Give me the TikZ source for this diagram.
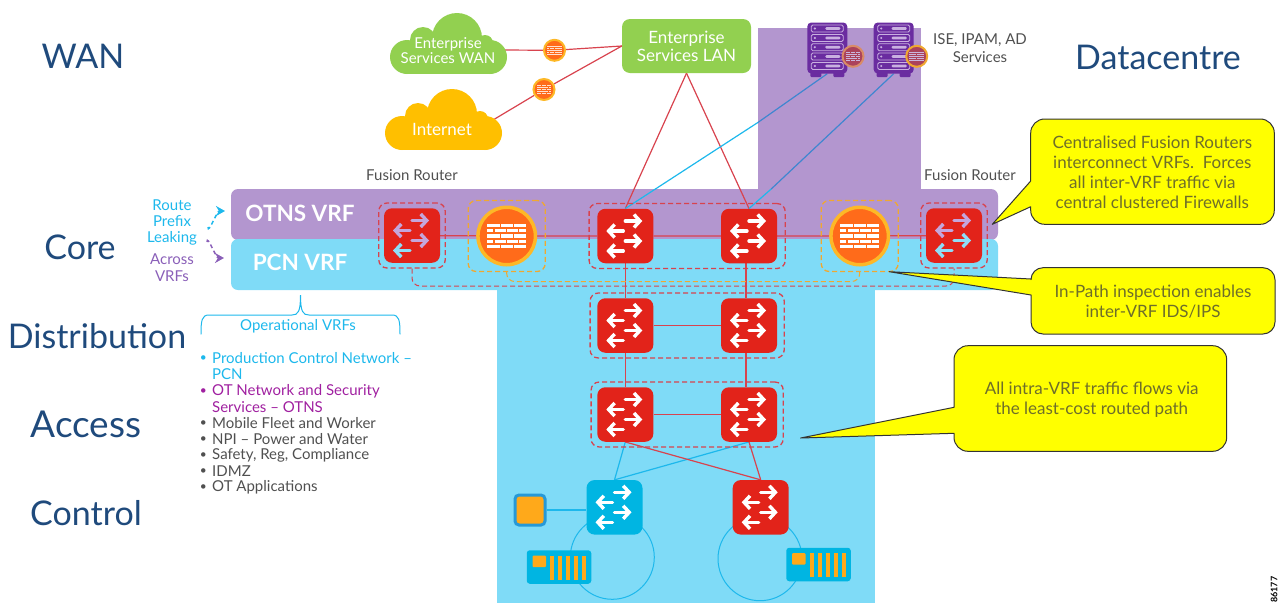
\documentclass[tikz,border=0pt]{standalone}
\usepackage{fontspec}
\setmainfont{Lato}
\usetikzlibrary{arrows.meta,fit}

\pgfdeclarelayer{bands}
\pgfdeclarelayer{links}
\pgfsetlayers{bands,links,main}

\definecolor{otnspurple}{HTML}{B396CF}
\definecolor{pcnblue}{HTML}{7FDBF7}
\definecolor{routerred}{HTML}{E2231A}
\definecolor{linkred}{HTML}{D8434E}
\definecolor{linkcyan}{HTML}{1DB8EC}
\definecolor{linkblue}{HTML}{3F86D0}
\definecolor{wallorange}{HTML}{FF6B1A}
\definecolor{wallring}{HTML}{FDB827}
\definecolor{dashorange}{HTML}{F0A830}
\definecolor{leafgreen}{HTML}{92D050}
\definecolor{cloudyellow}{HTML}{FFBF00}
\definecolor{serverpurple}{HTML}{6A2CA0}
\definecolor{slotpurple}{HTML}{C9B0E0}
\definecolor{headblue}{HTML}{1F4A7C}
\definecolor{tierlavender}{HTML}{C4A6DC}
\definecolor{tiersky}{HTML}{8FDDF7}
\definecolor{noteyellow}{HTML}{FFFF00}
\definecolor{noteolive}{HTML}{6E6E2A}
\definecolor{greytext}{HTML}{505050}
\definecolor{leakpurple}{HTML}{8A5FB8}
\definecolor{otnsmagenta}{HTML}{A020A0}
\definecolor{portblue}{HTML}{00B5E2}
\definecolor{portorange}{HTML}{FFA91A}

\tikzset{
    heading/.style={text=headblue, font=\fontsize{34}{40}\selectfont},
    router/.style={rectangle, rounded corners=8pt, fill=#1, minimum width=56pt, minimum height=54.5pt, inner sep=0pt},
    router/.default=routerred,
    firewall/.style={circle, fill=wallorange, draw=wallring, line width=3.5pt, minimum size=57.5pt, inner sep=0pt},
    smallwall/.style={circle, fill=#1, line width=2pt, minimum size=21pt, inner sep=0pt},
    redgroup/.style={draw=linkred, dashed, dash pattern=on 5pt off 3pt, line width=1.3pt, rounded corners=8pt, inner ysep=5pt},
    walgroup/.style={draw=dashorange, dashed, dash pattern=on 5pt off 3pt, line width=1.3pt, rounded corners=8pt, inner ysep=5pt, inner xsep=8pt},
    redlink/.style={draw=linkred, line width=1.2pt},
    cyanlink/.style={draw=linkcyan, line width=1.2pt},
    bluelink/.style={draw=linkblue, line width=1.2pt},
    flow/.style={draw=#1, line width=3.4pt, line cap=round, -{Straight Barb[length=6pt,width=13pt,line width=3.4pt]}},
    small label/.style={text=greytext, font=\fontsize{15}{17.5}\selectfont, align=center},
    cloud label/.style={text=white, font=\fontsize{15}{15}\selectfont, align=center},
    note/.style={fill=noteyellow, draw=black!80, line width=1pt, line join=round},
    note label/.style={text=noteolive, font=\fontsize{17}{20}\selectfont, align=center},
    band label/.style={text=white, font=\bfseries\fontsize{22.5}{26}\selectfont},
    listitem/.style={anchor=west, inner sep=0pt, text=#1, font=\fontsize{15}{16}\selectfont,
        label={[text=#1, inner sep=0pt, label distance=5pt, font=\fontsize{12}{14}\selectfont]left:•}},
    listcont/.style={anchor=west, inner sep=0pt, text=#1, font=\fontsize{15}{16}\selectfont},
    portcard/.style={rectangle, rounded corners=3pt, fill=portblue, minimum width=64.5pt, minimum height=33.5pt, inner sep=0pt},
    loopring/.style={circle, draw=linkcyan, line width=1pt, minimum size=84pt, inner sep=0pt},
    serverbox/.style={rectangle, rounded corners=4pt, fill=serverpurple, minimum width=40pt, minimum height=51pt, inner sep=0pt},
}

% four arrows of a router
\newcommand{\routerarrows}[5]{
    \draw[flow=#2] (#1.center) ++(0,-15) -- ++(17,0);
    \draw[flow=#3] (#1.center) ++(-2,-5) -- ++(-17,0);
    \draw[flow=#4] (#1.center) ++(0,5) -- ++(17,0);
    \draw[flow=#5] (#1.center) ++(-2,15) -- ++(-17,0);
}
% bricks of a firewall
\newcommand{\wallbricks}[3]{
    \begin{scope}[shift={(#1.center)}, scale=#2]
        \foreach \yy in {-10.8,0,10.8}{
            \fill[#3] (-19.5,\yy-1.6) rectangle (-7,\yy+1.6);
            \fill[#3] (-6,\yy-1.6) rectangle (6,\yy+1.6);
            \fill[#3] (7,\yy-1.6) rectangle (19.5,\yy+1.6);
        }
        \foreach \yy in {-5.4,5.4}{
            \fill[#3] (-19.5,\yy-1.6) rectangle (-13.5,\yy+1.6);
            \fill[#3] (-12,\yy-1.6) rectangle (-1,\yy+1.6);
            \fill[#3] (0.5,\yy-1.6) rectangle (11,\yy+1.6);
            \fill[#3] (12.5,\yy-1.6) rectangle (19.5,\yy+1.6);
        }
    \end{scope}
}
% body of a cloud, (0,0) is its top left
\newcommand{\cloudbody}[3]{
    \begin{scope}[shift={(#1,#2)}]
        \fill[#3] (69,25) circle (25);
        \fill[#3] (35,27) circle (13);
        \fill[#3] (97,30) circle (8);
        \fill[#3] (19,44) circle (17);
        \fill[#3] (102,44) circle (17);
        \fill[#3] (19,32) rectangle (102,61);
    \end{scope}
}
% slots and feet of a server
\newcommand{\serverslots}[1]{
    \begin{scope}[shift={(#1.center)}]
        \fill[serverpurple, rounded corners=1pt] (-17,23) rectangle (-6,29);
        \fill[serverpurple, rounded corners=1pt] (6,23) rectangle (17,29);
        \foreach \yy in {-19.5,-10,-0.8,8.5,18}{
            \draw[slotpurple, line width=0.8pt, rounded corners=1.5pt] (-16,\yy-3.5) rectangle (16,\yy+3.5);
            \fill[slotpurple] (-12.5,\yy) circle (1.2);
            \fill[slotpurple, rounded corners=1pt] (-2,\yy-1.3) rectangle (13,\yy+1.3);
        }
    \end{scope}
}
% one card with its port and its stripes
\newcommand{\cardports}[1]{
    \begin{scope}[shift={(#1.center)}]
        \fill[portorange, rounded corners=1pt] (-26.5,-11.5) rectangle (-13,0);
        \foreach \xx in {-9,-1,7,15,23}{
            \fill[portorange] (\xx,-11.5) rectangle (\xx+4,12.5);
        }
    \end{scope}
}

\begin{document}
\begin{tikzpicture}[x=1pt, y=-1pt]
    \useasboundingbox (0,0) rectangle (1280,603);

    % regions
    \begin{pgfonlayer}{bands}
        \fill[otnspurple] (758,28) rectangle (921,195);
        \fill[pcnblue] (497,280) rectangle (875,603);
        \fill[otnspurple, rounded corners=7pt] (231,189) rectangle (998,240);
        \fill[pcnblue, rounded corners=7pt] (231,239) rectangle (998,290);
    \end{pgfonlayer}

    % tier names
    \node[heading] (wanname) at (83,56){WAN};
    \node[heading] (dcname) at (1158,57){Datacentre};
    \node[heading] (corename) at (80,247){Core};
    \node[heading] (distname) at (97,336){Distribution};
    \node[heading, font=\fontsize{37}{40}\selectfont] (accname) at (86,424){Access};
    \node[heading] (ctrlname) at (86,513){Control};

    % top
    \cloudbody{388}{13}{leafgreen}
    \cloudbody{383}{89}{cloudyellow}
    \node[cloud label] (wancloud) at (448,50.5){Enterprise\\Services WAN};
    \node[cloud label, font=\fontsize{17}{17}\selectfont] (netcloud) at (442,129){Internet};
    \coordinate (wanport) at (502,50);
    \coordinate (netport) at (488,123);
    \node[rectangle, rounded corners=8pt, fill=leafgreen, minimum width=129pt, minimum height=54pt, inner sep=0pt, text=white, align=center, font=\fontsize{17}{18}\selectfont] (lan) at (686.5,46){Enterprise\\Services LAN};
    \node[smallwall=wallorange, draw=wallring] (fwwan) at (554.5,50.3){};
    \node[smallwall=wallorange, draw=wallring] (fwnet) at (544,89.5){};
    \wallbricks{fwwan}{0.38}{white!80!wallorange}
    \wallbricks{fwnet}{0.38}{white!80!wallorange}

    % servers
    \node[serverbox] (serverA) at (827.3,48){};
    \node[serverbox] (serverB) at (893.7,48){};
    \serverslots{serverA}
    \serverslots{serverB}
    \node[smallwall=red!45!otnspurple!80!black, draw=orange!50!otnspurple] (fwsrvA) at (853,56.3){};
    \node[smallwall=red!45!otnspurple!80!black, draw=dashorange] (fwsrvB) at (916.7,56.3){};
    \wallbricks{fwsrvA}{0.38}{otnspurple!70!white}
    \wallbricks{fwsrvB}{0.38}{otnspurple!70!white}
    \node[small label] (svcname) at (980,48){ISE, IPAM, AD\\Services};
    \coordinate (leftedge) at (758,122.4);
    \coordinate (bandtop) at (771.2,189);

    % labels over the core
    \node[small label] (fusionnameL) at (412,175){Fusion Router};
    \node[small label] (fusionnameR) at (970,175){Fusion Router};
    \node[band label] (otnsname) at (300,213){OTNS VRF};
    \node[band label] (pcnname) at (300,262){PCN VRF};
    \node[align=center, text=linkcyan, font=\fontsize{15}{16}\selectfont] (leakname) at (172,222){Route\\Prefix\\Leaking};
    \node[align=center, text=leakpurple, font=\fontsize{15}{17}\selectfont] (acrossname) at (172,268){Across\\VRFs};
    \coordinate (leakA) at (208,227);
    \coordinate (leakB) at (225,211);
    \coordinate (leakC) at (207,242);
    \coordinate (leakD) at (224,258);
    \draw[linkcyan, line width=1.5pt, dashed, dash pattern=on 4pt off 3pt, -{Stealth[length=9pt,width=10pt]}] (leakA) to[out=-90, in=180, looseness=0.9] (leakB);
    \draw[leakpurple, line width=1.5pt, dashed, dash pattern=on 4pt off 3pt, -{Stealth[length=9pt,width=10pt]}] (leakC) to[out=90, in=180, looseness=0.9] (leakD);

    % routers
    \node[router] (fusionL) at (412,235.5){};
    \node[firewall] (fwleft) at (506.7,236){};
    \node[router] (coreL) at (625.3,236){};
    \node[router] (coreR) at (749,236){};
    \node[firewall] (fwright) at (859.7,236){};
    \node[router] (fusionR) at (954,235.5){};
    \node[router] (distL) at (625.3,325.5){};
    \node[router] (distR) at (749,325.5){};
    \node[router] (accL) at (625.3,414.5){};
    \node[router] (accR) at (749,414.5){};
    \node[router=portblue] (ctrlL) at (614.5,507.3){};
    \node[router] (ctrlR) at (760.7,507.3){};

    \routerarrows{fusionL}{tierlavender}{tierlavender}{tierlavender}{tiersky}
    \routerarrows{fusionR}{tierlavender}{tierlavender}{tiersky}{tiersky}
    \routerarrows{coreL}{white}{white}{white}{white}
    \routerarrows{coreR}{white}{white}{white}{white}
    \routerarrows{distL}{white}{white}{white}{white}
    \routerarrows{distR}{white}{white}{white}{white}
    \routerarrows{accL}{white}{white}{white}{white}
    \routerarrows{accR}{white}{white}{white}{white}
    \routerarrows{ctrlL}{white}{white}{white}{white}
    \routerarrows{ctrlR}{white}{white}{white}{white}

    \wallbricks{fwleft}{1}{white}
    \wallbricks{fwright}{1}{white}

    % groups
    \node[redgroup, inner xsep=5pt, fit=(fusionL)] (boxfusionL) {};
    \node[redgroup, inner xsep=5pt, fit=(fusionR)] (boxfusionR) {};
    \node[redgroup, inner xsep=8pt, fit=(coreL)(coreR)] (boxcore) {};
    \node[redgroup, inner xsep=7pt, fit=(distL)(distR)] (boxdist) {};
    \node[redgroup, inner xsep=6pt, fit=(accL)(accR)] (boxacc) {};
    \node[walgroup, fit=(fwleft)] (boxwallL) {};
    \node[walgroup, fit=(fwright)] (boxwallR) {};
    \coordinate (railred) at (680,286);
    \coordinate (railwall) at (680,281.5);
    \draw[redgroup, line width=1pt] (boxfusionL.south) |- (railred) -| (boxfusionR.south);
    \draw[walgroup, line width=1pt] (boxwallL.south) |- (railwall) -| (boxwallR.south);

    % access ports
    \node[rectangle, rounded corners=4pt, fill=portorange, draw=linkblue!60!portblue, line width=3pt, minimum size=30pt, inner sep=0pt] (hostsquare) at (530,510){};
    \node[portcard] (cardL) at (559,567){};
    \node[portcard] (cardR) at (818.5,564.5){};
    \cardports{cardL}
    \cardports{cardR}

    % connectors
    \begin{pgfonlayer}{links}
        \draw[redlink] (wanport) -- (fwwan) -- (lan.west);
        \draw[redlink] (netport) -- (fwnet) -- (lan.west);
        \draw[redlink] (lan.south) -- (coreL.north);
        \draw[redlink] (lan.south) -- (coreR.north);
        \draw[cyanlink] (coreL.north) -- (leftedge);
        \draw[bluelink] (leftedge) -- (serverA.south);
        \draw[cyanlink] (coreR.north) -- (bandtop);
        \draw[bluelink] (bandtop) -- (serverB.south);
        \draw[redlink] (fusionL) -- (fwleft) -- (coreL) -- (coreR) -- (fwright) -- (fusionR);
        \draw[redlink] (coreL.south) -- (distL.north);
        \draw[redlink] ([xshift=-3pt]coreR.south) -- ([xshift=-3pt]distR.north);
        \draw[redlink] (distL) -- (distR);
        \draw[redlink] (distL.south) -- (accL.north);
        \draw[redlink] ([xshift=-3pt]distR.south) -- ([xshift=-3pt]accR.north);
        \draw[redlink] (accL) -- (accR);
        \draw[cyanlink] (accL.south) -- (ctrlL.north);
        \draw[cyanlink] (accR.south) -- (ctrlL.north);
        \draw[redlink] (accL.south) -- (ctrlR.north);
        \draw[redlink] (accR.south) -- (ctrlR.north);
        \draw[cyanlink] (hostsquare.east) -- (hostsquare.east -| ctrlL.west);
        \node[loopring] (loopL) at (612.3,557.3){};
        \node[loopring] (loopR) at (760,558.7){};
    \end{pgfonlayer}

    % list of VRFs
    \draw[linkcyan, line width=1pt, line cap=round] (201,334) .. controls (201,320) and (202,315) .. (209,315) -- (292,315) .. controls (298,315) and (300.5,312) .. (300.5,295) .. controls (300.5,312) and (303,315) .. (309,315) -- (392,315) .. controls (399,315) and (400,320) .. (400,334);
    \node[text=linkcyan, font=\fontsize{15}{16}\selectfont] (opname) at (298,326.5){Operational VRFs};
    \node[listitem=linkcyan] (itemA) at (212,358.5){Production Control Network --};
    \node[listcont=linkcyan] (itemAcont) at (212,374.5){PCN};
    \node[listitem=otnsmagenta] (itemB) at (212,391.5){OT Network and Security};
    \node[listcont=otnsmagenta] (itemBcont) at (212,407.5){Services -- OTNS};
    \node[listitem=greytext] (itemC) at (212,423.5){Mobile Fleet and Worker};
    \node[listitem=greytext] (itemD) at (212,439.5){NPI -- Power and Water};
    \node[listitem=greytext] (itemE) at (212,455.5){Safety, Reg, Compliance};
    \node[listitem=greytext] (itemF) at (212,471.5){IDMZ};
    \node[listitem=greytext] (itemG) at (212,487.5){OT Applications};

    % notes
    \draw[note] (992.3,224.3) [sharp corners] -- (1030.7,181) [rounded corners=14pt] -- (1030.7,119) -- (1274.3,119) -- (1274.3,224.3) -- (1030.7,224.3) [sharp corners] -- (1030.7,206.7) -- cycle;
    \draw[note] (889.3,271.7) [sharp corners] -- (1031,279) [rounded corners=12pt] -- (1031,267.7) -- (1275,267.7) -- (1275,334) -- (1031,334) [sharp corners] -- (1031,295) -- cycle;
    \draw[note] (800.7,438) [sharp corners] -- (954,407.3) [rounded corners=14pt] -- (954,345.7) -- (1226.7,345.7) -- (1226.7,451.3) -- (954,451.3) [sharp corners] -- (954,433.3) -- cycle;
    \node[note label] (noteA) at (1152.3,172){Centralised Fusion Routers\\interconnect VRFs.\ \ Forces\\all inter-VRF traffic via\\central clustered Firewalls};
    \node[note label] (noteB) at (1153,301.7){In-Path inspection enables\\inter-VRF IDS/IPS};
    \node[note label] (noteC) at (1091.7,399.3){All intra-VRF traffic flows via\\the least-cost routed path};

    \node[rotate=90, anchor=west, inner sep=0pt, font=\bfseries\fontsize{9}{10}\selectfont] (figno) at (1274,603){86177};
\end{tikzpicture}
\end{document}
